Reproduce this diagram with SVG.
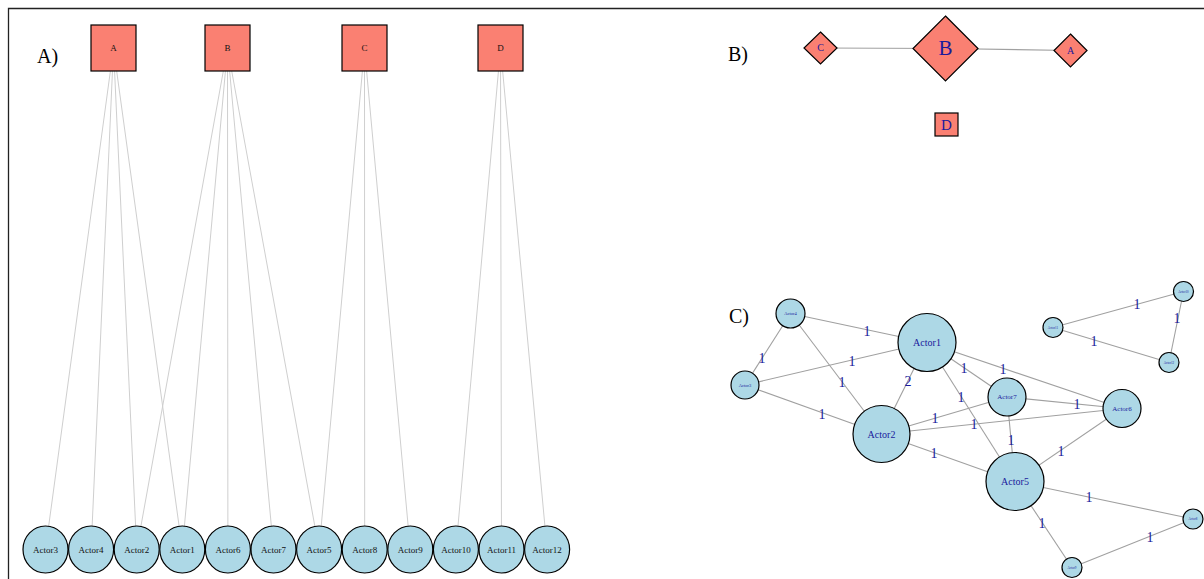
<svg xmlns="http://www.w3.org/2000/svg" width="1204" height="579" viewBox="0 0 1204 579">
<style>
text{font-family:"Liberation Serif","Times New Roman",serif;text-anchor:middle;dominant-baseline:central}
.panel{font-size:20px;fill:#000;text-anchor:start}
.sq{fill:#FA8072;stroke:#000;stroke-width:1.2}
.ci{fill:#ADD8E6;stroke:#000;stroke-width:1.2}
.ea line{stroke:#cfcfcf;stroke-width:1}
.eb line{stroke:#a0a0a0;stroke-width:1.1}
.la{font-size:9px;fill:#111}
.lb{fill:#1a1a9c}
.el{font-size:14px;fill:#1a1a9c}
</style>
<rect width="1204" height="579" fill="#fff"/>
<path d="M8.5,579 V8.5 H1204" fill="none" stroke="#222" stroke-width="1.3"/>
<text class="panel" x="37" y="56">A)</text>
<text class="panel" x="728" y="54">B)</text>
<text class="panel" x="729" y="316">C)</text>

<!-- Panel A connectors -->
<g id="edges-a" class="ea">
<line x1="113.5" y1="48" x2="45.5" y2="549.5"/>
<line x1="113.5" y1="48" x2="91.1" y2="549.5"/>
<line x1="113.5" y1="48" x2="136.7" y2="549.5"/>
<line x1="113.5" y1="48" x2="182.3" y2="549.5"/>
<line x1="227.5" y1="48" x2="136.7" y2="549.5"/>
<line x1="227.5" y1="48" x2="182.3" y2="549.5"/>
<line x1="227.5" y1="48" x2="227.9" y2="549.5"/>
<line x1="227.5" y1="48" x2="273.5" y2="549.5"/>
<line x1="227.5" y1="48" x2="319.1" y2="549.5"/>
<line x1="364.5" y1="48" x2="319.1" y2="549.5"/>
<line x1="364.5" y1="48" x2="364.7" y2="549.5"/>
<line x1="364.5" y1="48" x2="410.3" y2="549.5"/>
<line x1="500.5" y1="48" x2="455.9" y2="549.5"/>
<line x1="500.5" y1="48" x2="501.5" y2="549.5"/>
<line x1="500.5" y1="48" x2="547.1" y2="549.5"/>
</g>

<!-- Panel A nodes -->
<g id="a-A"><rect class="sq" x="91" y="25" width="45" height="46"/><text class="la" x="113.5" y="48">A</text></g>
<g id="a-B"><rect class="sq" x="205" y="25" width="45" height="46"/><text class="la" x="227.5" y="48">B</text></g>
<g id="a-C"><rect class="sq" x="342" y="25" width="45" height="46"/><text class="la" x="364.5" y="48">C</text></g>
<g id="a-D"><rect class="sq" x="478" y="25" width="45" height="46"/><text class="la" x="500.5" y="48">D</text></g>

<g id="a-Actor3"><ellipse class="ci" cx="45.5" cy="549.5" rx="22.5" ry="23.5"/><text class="la" x="45.5" y="549.5">Actor3</text></g>
<g id="a-Actor4"><ellipse class="ci" cx="91.1" cy="549.5" rx="22.5" ry="23.5"/><text class="la" x="91.1" y="549.5">Actor4</text></g>
<g id="a-Actor2"><ellipse class="ci" cx="136.7" cy="549.5" rx="22.5" ry="23.5"/><text class="la" x="136.7" y="549.5">Actor2</text></g>
<g id="a-Actor1"><ellipse class="ci" cx="182.3" cy="549.5" rx="22.5" ry="23.5"/><text class="la" x="182.3" y="549.5">Actor1</text></g>
<g id="a-Actor6"><ellipse class="ci" cx="227.9" cy="549.5" rx="22.5" ry="23.5"/><text class="la" x="227.9" y="549.5">Actor6</text></g>
<g id="a-Actor7"><ellipse class="ci" cx="273.5" cy="549.5" rx="22.5" ry="23.5"/><text class="la" x="273.5" y="549.5">Actor7</text></g>
<g id="a-Actor5"><ellipse class="ci" cx="319.1" cy="549.5" rx="22.5" ry="23.5"/><text class="la" x="319.1" y="549.5">Actor5</text></g>
<g id="a-Actor8"><ellipse class="ci" cx="364.7" cy="549.5" rx="22.5" ry="23.5"/><text class="la" x="364.7" y="549.5">Actor8</text></g>
<g id="a-Actor9"><ellipse class="ci" cx="410.3" cy="549.5" rx="22.5" ry="23.5"/><text class="la" x="410.3" y="549.5">Actor9</text></g>
<g id="a-Actor10"><ellipse class="ci" cx="455.9" cy="549.5" rx="22.5" ry="23.5"/><text class="la" x="455.9" y="549.5">Actor10</text></g>
<g id="a-Actor11"><ellipse class="ci" cx="501.5" cy="549.5" rx="22.5" ry="23.5"/><text class="la" x="501.5" y="549.5">Actor11</text></g>
<g id="a-Actor12"><ellipse class="ci" cx="547.1" cy="549.5" rx="22.5" ry="23.5"/><text class="la" x="547.1" y="549.5">Actor12</text></g>

<!-- Panel B connectors -->
<g id="edges-b" class="eb">
<line x1="820.5" y1="48" x2="945.5" y2="48.5"/>
<line x1="945.5" y1="48.5" x2="1070.5" y2="50.5"/>
</g>
<!-- Panel B nodes -->
<g id="b-C"><polygon class="sq" points="820.5,32 837,48 820.5,64 804,48"/><text class="lb" style="font-size:10px" x="820.5" y="47.5">C</text></g>
<g id="b-B"><polygon class="sq" points="945.5,16 978,48.5 945.5,81 913,48.5"/><text class="lb" style="font-size:21px" x="945.5" y="47.5">B</text></g>
<g id="b-A"><polygon class="sq" points="1070.5,34 1087,50.5 1070.5,67 1054,50.5"/><text class="lb" style="font-size:10px" x="1070.5" y="50">A</text></g>
<g id="b-D"><rect class="sq" x="935" y="113" width="23" height="23"/><text class="lb" style="font-size:15px" x="946.5" y="124.5">D</text></g>

<!-- Panel C connectors -->
<g id="edges-c" class="eb">
<line x1="790.5" y1="313.5" x2="927" y2="342.5"/>
<line x1="790.5" y1="313.5" x2="745" y2="385"/>
<line x1="790.5" y1="313.5" x2="881.5" y2="434"/>
<line x1="745" y1="385" x2="927" y2="342.5"/>
<line x1="745" y1="385" x2="881.5" y2="434"/>
<line x1="927" y1="342.5" x2="881.5" y2="434"/>
<line x1="927" y1="342.5" x2="1007" y2="397"/>
<line x1="927" y1="342.5" x2="1122" y2="408.5"/>
<line x1="927" y1="342.5" x2="1015" y2="481.5"/>
<line x1="881.5" y1="434" x2="1007" y2="397"/>
<line x1="881.5" y1="434" x2="1122" y2="408.5"/>
<line x1="881.5" y1="434" x2="1015" y2="481.5"/>
<line x1="1007" y1="397" x2="1122" y2="408.5"/>
<line x1="1007" y1="397" x2="1015" y2="481.5"/>
<line x1="1015" y1="481.5" x2="1122" y2="408.5"/>
<line x1="1015" y1="481.5" x2="1193" y2="519"/>
<line x1="1015" y1="481.5" x2="1072" y2="567.5"/>
<line x1="1072" y1="567.5" x2="1193" y2="519"/>
<line x1="1053" y1="327.5" x2="1183.5" y2="291.5"/>
<line x1="1053" y1="327.5" x2="1169" y2="362.5"/>
<line x1="1183.5" y1="291.5" x2="1169" y2="362.5"/>
</g>
<g id="edge-labels-c">
<text class="el" x="867" y="331">1</text>
<text class="el" x="762" y="358">1</text>
<text class="el" x="852" y="361">1</text>
<text class="el" x="842" y="382">1</text>
<text class="el" x="822" y="414">1</text>
<text class="el" x="908" y="381">2</text>
<text class="el" x="964" y="368">1</text>
<text class="el" x="1003" y="369">1</text>
<text class="el" x="961" y="397">1</text>
<text class="el" x="935" y="418">1</text>
<text class="el" x="974" y="424">1</text>
<text class="el" x="1077" y="404">1</text>
<text class="el" x="1011" y="440">1</text>
<text class="el" x="934" y="453">1</text>
<text class="el" x="1061" y="451">1</text>
<text class="el" x="1089" y="497">1</text>
<text class="el" x="1042" y="523">1</text>
<text class="el" x="1150" y="537">1</text>
<text class="el" x="1137" y="304">1</text>
<text class="el" x="1177" y="318">1</text>
<text class="el" x="1094" y="341">1</text>
</g>
<!-- Panel C nodes -->
<g id="c-Actor1"><circle class="ci" cx="927" cy="342.5" r="29"/><text class="lb" style="font-size:10px" x="927" y="342.5">Actor1</text></g>
<g id="c-Actor2"><circle class="ci" cx="881.5" cy="434" r="28.5"/><text class="lb" style="font-size:10px" x="881.5" y="434">Actor2</text></g>
<g id="c-Actor3"><circle class="ci" cx="745" cy="385" r="14"/><text class="lb" style="font-size:4.5px" x="745" y="385">Actor3</text></g>
<g id="c-Actor4"><circle class="ci" cx="790.5" cy="313.5" r="14.5"/><text class="lb" style="font-size:4.5px" x="790.5" y="313.5">Actor4</text></g>
<g id="c-Actor5"><circle class="ci" cx="1015" cy="481.5" r="29"/><text class="lb" style="font-size:10px" x="1015" y="481.5">Actor5</text></g>
<g id="c-Actor6"><circle class="ci" cx="1122" cy="408.5" r="19"/><text class="lb" style="font-size:7px" x="1122" y="408.5">Actor6</text></g>
<g id="c-Actor7"><circle class="ci" cx="1007" cy="397" r="19"/><text class="lb" style="font-size:7px" x="1007" y="397">Actor7</text></g>
<g id="c-Actor8"><circle class="ci" cx="1193" cy="519" r="10"/><text class="lb" style="font-size:3.2px" x="1193" y="519">Actor8</text></g>
<g id="c-Actor9"><circle class="ci" cx="1072" cy="567.5" r="10"/><text class="lb" style="font-size:3.2px" x="1072" y="567.5">Actor9</text></g>
<g id="c-Actor10"><circle class="ci" cx="1183.5" cy="291.5" r="10"/><text class="lb" style="font-size:3.2px" x="1183.5" y="291.5">Actor10</text></g>
<g id="c-Actor11"><circle class="ci" cx="1053" cy="327.5" r="10"/><text class="lb" style="font-size:3.2px" x="1053" y="327.5">Actor11</text></g>
<g id="c-Actor12"><circle class="ci" cx="1169" cy="362.5" r="10"/><text class="lb" style="font-size:3.2px" x="1169" y="362.5">Actor12</text></g>
</svg>
